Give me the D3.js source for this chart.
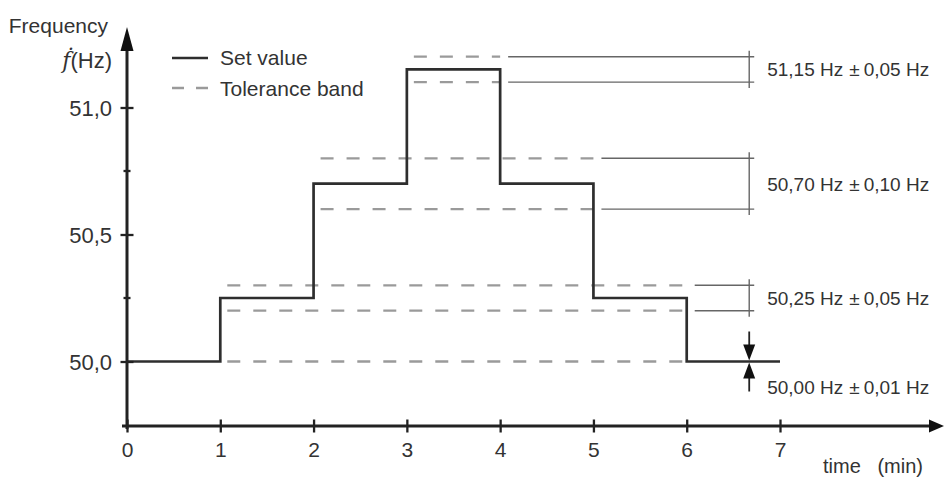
<!DOCTYPE html>
<html lang="en">
<head>
    <meta charset="UTF-8">
    <title>Frequency set value steps</title>
    <script src="https://d3js.org/d3.v7.min.js"></script>
    <style>
        body { margin: 0; background: white; }
        text { font-family: 'Liberation Sans', Arial, sans-serif; fill: #333; }
    </style>
</head>
<body>
    <svg id="chart" width="944" height="481"></svg>

    <script>
        // Data
        const xTicks = [0, 1, 2, 3, 4, 5, 6, 7];
        const yTicks = [50.0, 50.5, 51.0];
        const yTickLabels = ["50,0", "50,5", "51,0"];
        const yMinorTicks = [50.25, 50.75];

        // set value holds from stepTimes[i] to stepTimes[i+1]
        const stepTimes = [0, 1, 2, 3, 4, 5, 6, 7];
        const setValues = [50.00, 50.25, 50.70, 51.15, 50.70, 50.25, 50.00];

        const bandCenters = [51.15, 50.70, 50.25, 50.00];
        const bandTolerances = [0.05, 0.10, 0.05, 0.01];
        const bandStarts = [3, 2, 1, 1];
        const bandEnds = [4, 5, 6, 6];
        const bandValueText = ["51,15 Hz", "50,70 Hz", "50,25 Hz", "50,00 Hz"];
        const bandTolText = ["0,05 Hz", "0,10 Hz", "0,05 Hz", "0,01 Hz"];

        const width = 944, height = 481;
        const svg = d3.select("#chart");

        svg.append("rect")
            .attr("width", width)
            .attr("height", height)
            .attr("fill", "white");

        // Scales
        const x = d3.scaleLinear().domain([0, 7]).range([127, 780]);
        const y = d3.scaleLinear().domain([50, 51]).range([361.5, 107.5]);
        const axisY = 426;               // where the time axis sits
        const dimX = x(6.67);            // dimension line column

        const dashColor = "#9a9a9a", thinColor = "#666";

        // Tolerance bands
        const bands = svg.append("g");
        bandCenters.forEach((c, i) => {
            const tol = bandTolerances[i];
            const x0 = x(bandStarts[i]), x1 = x(bandEnds[i]);
            const narrow = y(c - tol) - y(c + tol) < 10;
            const levels = narrow ? [c] : [c + tol, c - tol];

            levels.forEach(v => {
                bands.append("line")
                    .attr("x1", x0).attr("x2", x1)
                    .attr("y1", y(v)).attr("y2", y(v))
                    .attr("stroke", dashColor)
                    .attr("stroke-width", 2.3)
                    .attr("stroke-dasharray", "13,13")
                    .attr("stroke-dashoffset", 19);
                if (!narrow) {
                    bands.append("line")
                        .attr("x1", x1 + 8).attr("x2", dimX + 5)
                        .attr("y1", y(v)).attr("y2", y(v))
                        .attr("stroke", thinColor)
                        .attr("stroke-width", 1.4);
                }
            });

            if (!narrow) {
                bands.append("line")
                    .attr("x1", dimX).attr("x2", dimX)
                    .attr("y1", y(c + tol) - 6).attr("y2", y(c - tol) + 6)
                    .attr("stroke", thinColor)
                    .attr("stroke-width", 1.4);
            } else {
                // inward arrows for the very narrow band
                const yc = y(c);
                [-1, 1].forEach(s => {
                    bands.append("line")
                        .attr("x1", dimX).attr("x2", dimX)
                        .attr("y1", yc + s * 30).attr("y2", yc + s * 14)
                        .attr("stroke", "#222")
                        .attr("stroke-width", 1.8);
                    bands.append("path")
                        .attr("d", `M${dimX - 6},${yc + s * 17}L${dimX + 6},${yc + s * 17}L${dimX},${yc + s * 1}Z`)
                        .attr("fill", "#111");
                });
            }

            const label = svg.append("text")
                .attr("x", dimX + 18)
                .attr("y", narrow ? y(c) + 26 : y(c))
                .attr("dy", "0.36em")
                .style("font-size", "19px");
            label.append("tspan").text(bandValueText[i]);
            label.append("tspan").attr("dx", 6).text("±");
            label.append("tspan").attr("dx", 4).text(bandTolText[i]);
        });

        // Set value step line
        const stepData = stepTimes.map((t, i) => ({ t: t, v: setValues[Math.min(i, setValues.length - 1)] }));
        const line = d3.line()
            .x(d => x(d.t))
            .y(d => y(d.v))
            .curve(d3.curveStepAfter);

        svg.append("path")
            .datum(stepData)
            .attr("d", line)
            .attr("fill", "none")
            .attr("stroke", "#2e2e2e")
            .attr("stroke-width", 2.7);

        // Axes
        const xAxis = svg.append("g")
            .attr("transform", `translate(0,${axisY})`)
            .call(d3.axisBottom(x).tickValues(xTicks).tickSize(0).tickFormat(d3.format("d")));
        xAxis.select(".domain").remove();
        xAxis.selectAll(".tick line")
            .attr("y1", -6.5).attr("y2", 6.5)
            .attr("stroke", "#222").attr("stroke-width", 2.3);
        xAxis.selectAll(".tick text")
            .attr("y", 31).attr("dy", 0)
            .style("font-size", "21px")
            .style("font-family", "'Liberation Sans', Arial, sans-serif")
            .attr("fill", "#333");

        const yAxis = svg.append("g")
            .attr("transform", `translate(${x(0)},0)`)
            .call(d3.axisLeft(y).tickValues(yTicks).tickSize(0).tickFormat((d, i) => yTickLabels[i]));
        yAxis.select(".domain").remove();
        yAxis.selectAll(".tick line")
            .attr("x1", -6.5).attr("x2", 6.5)
            .attr("stroke", "#222").attr("stroke-width", 2.3);
        yAxis.selectAll(".tick text")
            .attr("x", -15).attr("dy", "0.36em")
            .style("font-size", "22px")
            .style("font-family", "'Liberation Sans', Arial, sans-serif")
            .attr("fill", "#333");

        svg.append("g").selectAll("line")
            .data(yMinorTicks)
            .join("line")
            .attr("x1", x(0) - 3.5).attr("x2", x(0) + 3.5)
            .attr("y1", d => y(d)).attr("y2", d => y(d))
            .attr("stroke", "#222").attr("stroke-width", 2.3);

        // axis lines with arrow heads
        svg.append("line")
            .attr("x1", x(0) - 5).attr("x2", 932)
            .attr("y1", axisY).attr("y2", axisY)
            .attr("stroke", "#222").attr("stroke-width", 3);
        svg.append("path")
            .attr("d", `M929,${axisY - 6.5}L944,${axisY}L929,${axisY + 6.5}Z`)
            .attr("fill", "#111");

        svg.append("line")
            .attr("x1", x(0)).attr("x2", x(0))
            .attr("y1", axisY + 3).attr("y2", 45)
            .attr("stroke", "#222").attr("stroke-width", 3);
        svg.append("path")
            .attr("d", `M${x(0) - 6.5},51L${x(0)},27L${x(0) + 6.5},51Z`)
            .attr("fill", "#111");

        // Axis titles
        svg.append("text")
            .attr("x", 108).attr("y", 33)
            .attr("text-anchor", "end")
            .style("font-size", "21px")
            .text("Frequency");

        const fLabel = svg.append("text")
            .attr("x", 112).attr("y", 68)
            .attr("text-anchor", "end")
            .style("font-size", "22px");
        fLabel.append("tspan")
            .style("font-family", "'DejaVu Serif', serif")
            .style("font-style", "italic")
            .text("ḟ");
        fLabel.append("tspan").text("(Hz)");

        svg.append("text")
            .attr("x", 823).attr("y", 473)
            .style("font-size", "20px")
            .attr("xml:space", "preserve")
            .text("time   (min)");

        // Legend
        const legend = svg.append("g");
        legend.append("line")
            .attr("x1", 172).attr("x2", 208)
            .attr("y1", 58).attr("y2", 58)
            .attr("stroke", "#2e2e2e").attr("stroke-width", 2.7);
        legend.append("text")
            .attr("x", 220).attr("y", 57).attr("dy", "0.36em")
            .style("font-size", "21px")
            .text("Set value");
        legend.append("line")
            .attr("x1", 172).attr("x2", 208)
            .attr("y1", 88).attr("y2", 88)
            .attr("stroke", dashColor).attr("stroke-width", 2.3)
            .attr("stroke-dasharray", "12,12");
        legend.append("text")
            .attr("x", 220).attr("y", 88).attr("dy", "0.36em")
            .style("font-size", "21px")
            .text("Tolerance band");
    </script>
</body>
</html>
